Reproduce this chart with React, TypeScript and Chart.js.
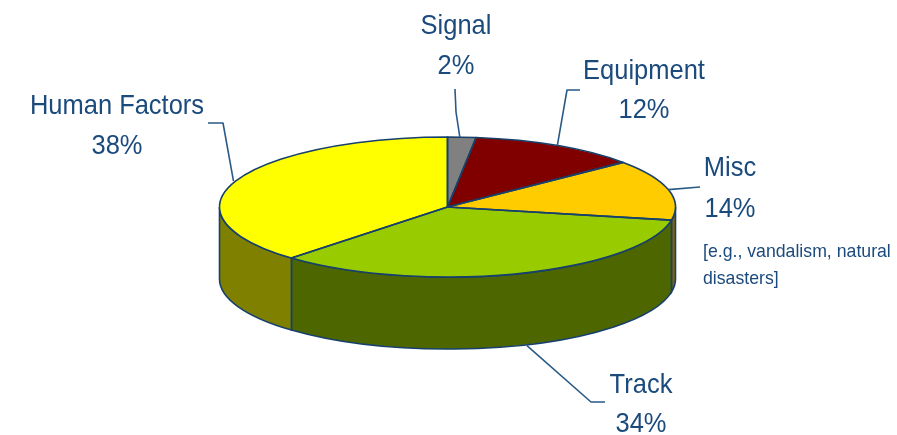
import React, { useEffect, useRef } from "react";
import { Chart, registerables } from "chart.js";

Chart.register(...registerables);

const categories = ["Signal", "Equipment", "Misc", "Track", "Human Factors"];
const shares = [2, 12, 14, 34, 38];
const topColors = ["#808080", "#800000", "#FFCC00", "#99CC00", "#FFFF00"];
const wallColors = ["#404040", "#400000", "#806600", "#4D6600", "#808000"];
const miscNote = ["[e.g., vandalism, natural", "disasters]"];

const INK = "#1B4A7C";
const OUTLINE = "#17406B";
const RADIUS_X = 228;
const RADIUS_Y = 70;
const DEPTH = 72;

// Where each callout sits; the leader's slice end is worked out from the slice itself.
const callouts = [
  { cx: 456, nameY: 26, valueY: 66, elbow: [[455, 89], [456, 112]], onRim: false, nudge: -2 },
  { cx: 644, nameY: 71, valueY: 110, elbow: [[580, 90], [567, 90]], onRim: false, nudge: 0 },
  { cx: 730, nameY: 168, valueY: 209, elbow: [[700, 187]], onRim: false, nudge: 0 },
  { cx: 641, nameY: 385, valueY: 424, elbow: [[605, 402], [591, 402]], onRim: true, nudge: 9 },
  { cx: 117, nameY: 106, valueY: 146, elbow: [[208, 123], [223, 123]], onRim: false, nudge: -2 },
];

// Draws a centred label in a tall, slightly condensed face.
function condensedText(ctx: CanvasRenderingContext2D, text: string, x: number, y: number) {
  ctx.save();
  ctx.translate(x, y);
  ctx.scale(0.91, 1);
  ctx.fillText(text, 0, 0);
  ctx.restore();
}

const tiltedPie = {
  id: "tiltedPie",
  beforeDatasetsDraw(chart: any) {
    const ctx = chart.ctx;
    const arcs = chart.getDatasetMeta(0).data;
    const { x: cx, y: cy, outerRadius: r } = arcs[0].getProps(["x", "y", "outerRadius"], true);

    // Rim: only the part of each slice facing the viewer has a visible wall.
    arcs.forEach((arc: any, i: number) => {
      const s = Math.max(arc.startAngle, 0);
      const e = Math.min(arc.endAngle, Math.PI);
      if (e <= s) return;
      ctx.beginPath();
      ctx.ellipse(cx, cy, RADIUS_X, RADIUS_Y, 0, s, e);
      ctx.ellipse(cx, cy + DEPTH, RADIUS_X, RADIUS_Y, 0, e, s, true);
      ctx.closePath();
      ctx.fillStyle = wallColors[i];
      ctx.fill();
      ctx.strokeStyle = OUTLINE;
      ctx.lineWidth = 1.6;
      ctx.stroke();
    });

    // The slices themselves are flattened into the tilted top face.
    ctx.save();
    ctx.translate(cx, cy);
    ctx.scale(RADIUS_X / r, RADIUS_Y / r);
    ctx.translate(-cx, -cy);
  },
  afterDatasetsDraw(chart: any) {
    const ctx = chart.ctx;
    ctx.restore();
    const arcs = chart.getDatasetMeta(0).data;
    const { x: cx, y: cy } = arcs[0];

    ctx.strokeStyle = OUTLINE;
    ctx.lineWidth = 1.6;
    ctx.lineJoin = "round";
    arcs.forEach((arc: any) => {
      ctx.beginPath();
      ctx.moveTo(cx, cy);
      ctx.ellipse(cx, cy, RADIUS_X, RADIUS_Y, 0, arc.startAngle, arc.endAngle);
      ctx.closePath();
      ctx.stroke();
    });

    // Leader lines run from each slice's mid-angle to its callout.
    ctx.strokeStyle = "#2A5A86";
    ctx.lineWidth = 1.6;
    arcs.forEach((arc: any, i: number) => {
      const c = callouts[i];
      const mid = (arc.startAngle + arc.endAngle) / 2;
      const ax = cx + RADIUS_X * Math.cos(mid) + c.nudge;
      const ay = cy + RADIUS_Y * Math.sin(mid) + (c.onRim ? DEPTH : 0);
      ctx.beginPath();
      ctx.moveTo(c.elbow[0][0], c.elbow[0][1]);
      c.elbow.slice(1).forEach((p: number[]) => ctx.lineTo(p[0], p[1]));
      ctx.lineTo(ax, ay);
      ctx.stroke();
    });

    ctx.fillStyle = INK;
    ctx.textAlign = "center";
    ctx.textBaseline = "middle";
    ctx.font = '28px "Liberation Sans", Arial, sans-serif';
    categories.forEach((name, i) => {
      const c = callouts[i];
      condensedText(ctx, name, c.cx, c.nameY);
      condensedText(ctx, `${shares[i]}%`, c.cx, c.valueY);
    });

    ctx.textAlign = "left";
    ctx.font = '17.7px "Liberation Sans", Arial, sans-serif';
    miscNote.forEach((line, i) => ctx.fillText(line, 703, 252 + i * 27));
  },
};

export default function App() {
  const ref = useRef<HTMLCanvasElement>(null);

  useEffect(() => {
    document.body.style.margin = "0";
    const chart = new Chart(ref.current!, {
      type: "pie",
      data: {
        labels: categories,
        datasets: [
          {
            data: shares,
            backgroundColor: topColors,
            borderWidth: 0,
            clip: false,
          } as any,
        ],
      },
      options: {
        responsive: false,
        animation: false,
        layout: { padding: { left: 0, right: 2, top: 0, bottom: 21 } },
        plugins: { legend: { display: false }, tooltip: { enabled: false } },
      },
      plugins: [tiltedPie],
    });
    return () => chart.destroy();
  }, []);

  return <canvas ref={ref} width={897} height={435} style={{ display: "block" }} />;
}
